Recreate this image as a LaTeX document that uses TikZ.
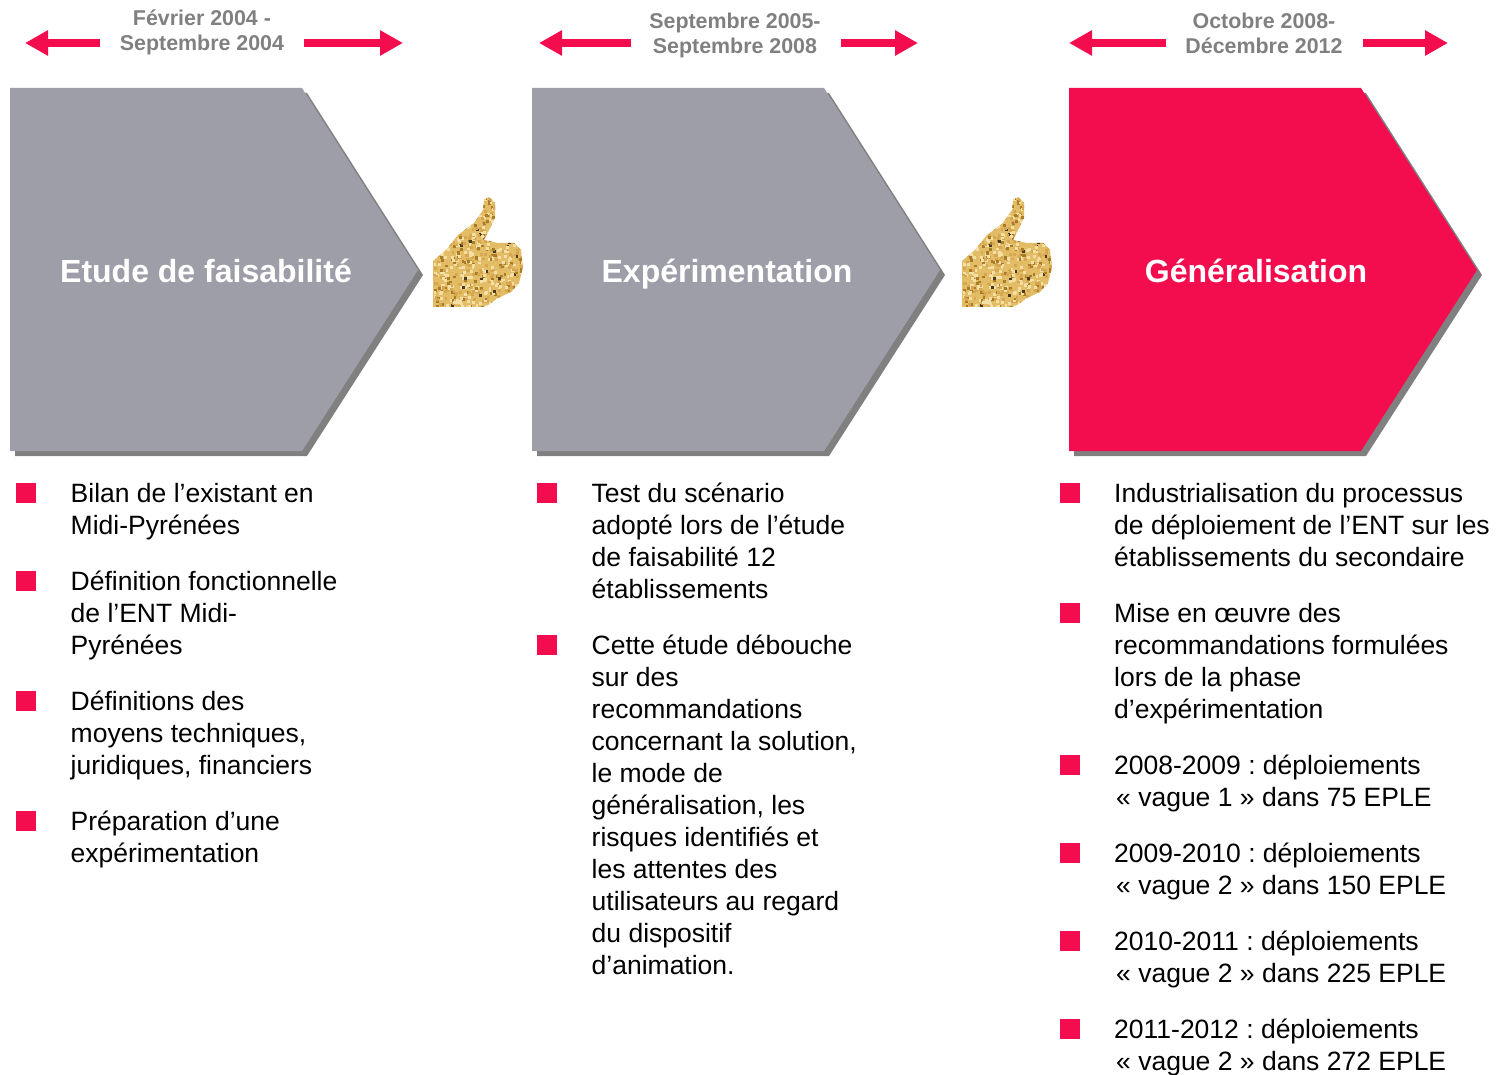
\documentclass[tikz,border=0pt]{standalone}
\usepackage{fontspec}
\setmainfont{Liberation Sans}
\usepackage{xcolor}
\usetikzlibrary{arrows.meta}

\definecolor{rose}{HTML}{F30D4E}
\definecolor{ardoise}{HTML}{9E9EA9}
\definecolor{ombre}{HTML}{808080}
\definecolor{or}{HTML}{E3BC66}

\newcommand{\guil}[1]{\kern2pt«~#1~»\relax}
\newcommand{\chevron}[3]{% x gauche, x epaule, x pointe
    \fill[ombre] (#1+5,93) -- (#2+5,93) -- (#3+5,275) -- (#2+5,456) -- (#1+5,456) -- cycle;
    \fill[ardoise] (#1,88) -- (#2,88) -- (#3,270) -- (#2,451) -- (#1,451) -- cycle;
}

\tikzset{
    dates/.style={inner sep=0pt, align=center, text=ombre,
        font=\fontsize{21.4}{25}\selectfont\bfseries},
    titre/.style={anchor=base, inner sep=0pt, text=white,
        font=\fontsize{32}{36}\selectfont\bfseries},
    puce/.style={fill=rose, inner sep=0pt, minimum size=20},
    texte/.style={anchor=north west, inner sep=0pt, align=left,
        font=\fontsize{26.5}{32}\selectfont\frenchspacing, execute at begin node=\strut},
    fleche/.style={draw=rose, line width=8.5, -{Triangle[length=23,width=24]}},
    pouce/.pic={
        \begin{scope}
            \clip (0,47) -- (13,36) -- (25,21) -- (41,9) -- (50,-4) -- (51,-14) -- (56,-17)
                -- (62,-11) -- (62,4) -- (51,26) -- (65,29) -- (81,29) -- (88,36) -- (90,53)
                -- (86,69) -- (78,78) -- (65,84) -- (55,91) -- (50,93) -- (0,93) -- cycle;
            \fill[or] (-2,-20) rectangle (92,95);
            \pgfmathsetseed{42}
            \foreach \i in {1,...,800}{
                \pgfmathsetmacro{\px}{rnd*92}
                \pgfmathsetmacro{\py}{rnd*112-18}
                \pgfmathsetmacro{\ton}{rnd}
                \ifdim\ton pt<0.40pt \def\teinte{F4E0A6}\else
                    \ifdim\ton pt<0.75pt \def\teinte{D6A750}\else
                        \ifdim\ton pt<0.98pt \def\teinte{A87C28}\else
                            \def\teinte{4A3A20}\fi\fi\fi
                \definecolor{grain}{HTML}{\teinte}
                \fill[grain] (\px,\py) rectangle ++(2.8,2.8);
            }
        \end{scope}
    }
}

\begin{document}
\begin{tikzpicture}[x=1pt,y=-1pt]
    \useasboundingbox (0,0) rectangle (1499,1075);

    % chevrons
    \chevron{10}{302}{418}
    \chevron{532}{824}{940}
    \colorlet{ardoise}{rose}
    \chevron{1069}{1361}{1477}

    \node (etude) [titre] at (206,282.8) {Etude de faisabilité};
    \node (experimentation) [titre] at (727,282.8) {Expérimentation};
    \node (generalisation) [titre] at (1256,282.8) {Généralisation};

    \pic at (433,214) {pouce};
    \pic at (962,214) {pouce};

    % periodes
    \node (periode1) [dates] at (202,32) {Février 2004 -\\Septembre 2004};
    \node (periode2) [dates] at (735,35) {Septembre 2005-\\Septembre 2008};
    \node (periode3) [dates] at (1264,33) {Octobre 2008-\\Décembre 2012};

    \coordinate (p1gd) at (100,43);  \coordinate (p1g) at (25,43);
    \coordinate (p1dd) at (304,43);  \coordinate (p1d) at (403,43);
    \coordinate (p2gd) at (631,43);  \coordinate (p2g) at (539,43);
    \coordinate (p2dd) at (841,43);  \coordinate (p2d) at (918,43);
    \coordinate (p3gd) at (1166,43); \coordinate (p3g) at (1069,43);
    \coordinate (p3dd) at (1363,43); \coordinate (p3d) at (1448,43);
    \foreach \a/\b in {p1gd/p1g,p1dd/p1d,p2gd/p2g,p2dd/p2d,p3gd/p3g,p3dd/p3d}
        \draw[fleche] (\a) -- (\b);

    % puces
    \foreach \x/\y [count=\n] in {26/492.5,26/580.5,26/700.5,26/820.5,
            547/492.5,547/644.5,
            1070/492.5,1070/612.5,1070/764.5,1070/852.5,1070/940.5,1070/1028.5}
        \node (puce\n) [puce] at (\x,\y) {};

    % premiere colonne
    \node (bilan) [texte] at (70.5,483) {Bilan de l’existant en\\Midi-Pyrénées};
    \node (definition) [texte] at (70.5,571) {Définition fonctionnelle\\de l’ENT Midi-\\Pyrénées};
    \node (moyens) [texte] at (70.5,691) {Définitions des\\moyens techniques,\\juridiques, financiers};
    \node (preparation) [texte] at (70.5,811) {Préparation d’une\\expérimentation};

    % deuxieme colonne
    \node (test) [texte] at (591.5,483) {Test du scénario\\adopté lors de l’étude\\de faisabilité 12\\établissements};
    \node (cette) [texte] at (591.5,635) {Cette étude débouche\\sur des\\recommandations\\concernant la solution,\\le mode de\\généralisation, les\\risques identifiés et\\les attentes des\\utilisateurs au regard\\du dispositif\\d’animation.};

    % troisieme colonne
    \node (indus) [texte] at (1114,483) {Industrialisation du processus\\de déploiement de l’ENT sur les\\établissements du secondaire};
    \node (mise) [texte] at (1114,603) {Mise en œuvre des\\recommandations formulées\\lors de la phase\\d’expérimentation};
    \node (vague1) [texte] at (1114,755) {2008-2009 : déploiements\\\guil{vague 1} dans 75 EPLE};
    \node (vague2) [texte] at (1114,843) {2009-2010 : déploiements\\\guil{vague 2} dans 150 EPLE};
    \node (vague3) [texte] at (1114,931) {2010-2011 : déploiements\\\guil{vague 2} dans 225 EPLE};
    \node (vague4) [texte] at (1114,1019) {2011-2012 : déploiements\\\guil{vague 2} dans 272 EPLE};
\end{tikzpicture}
\end{document}
